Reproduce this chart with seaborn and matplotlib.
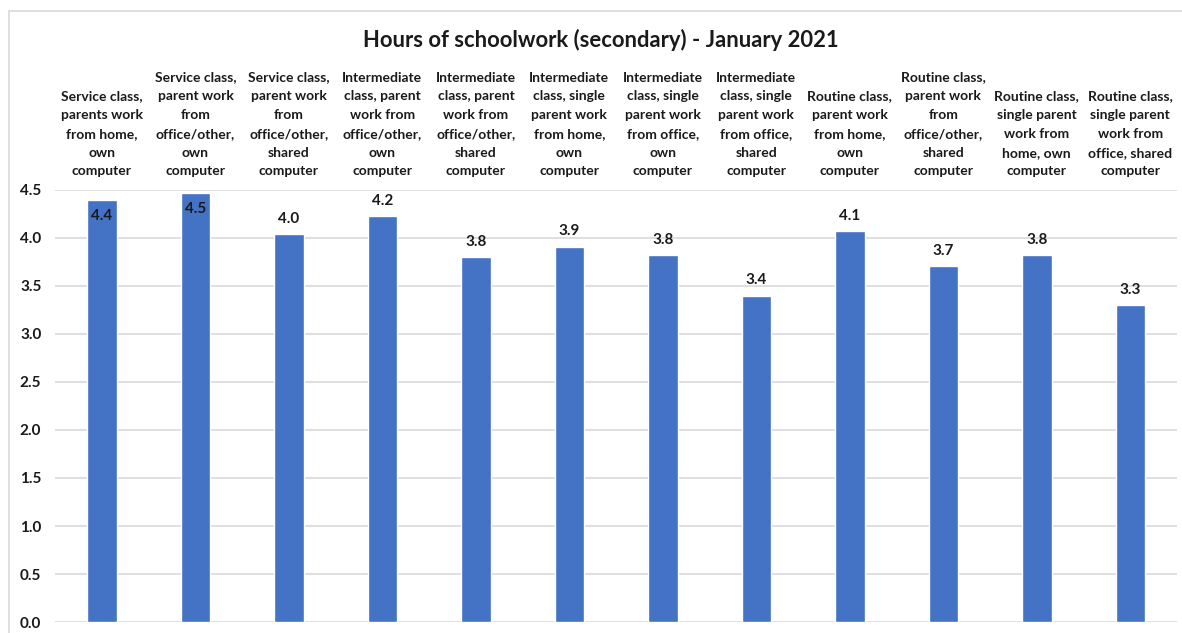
import matplotlib
matplotlib.use("Agg")
import matplotlib.pyplot as plt
from matplotlib.patches import Rectangle
import seaborn as sns
import pandas as pd

categories = [
    "Service class,\nparents work\nfrom home,\nown\ncomputer",
    "Service class,\nparent work\nfrom\noffice/other,\nown\ncomputer",
    "Service class,\nparent work\nfrom\noffice/other,\nshared\ncomputer",
    "Intermediate\nclass, parent\nwork from\noffice/other,\nown\ncomputer",
    "Intermediate\nclass, parent\nwork from\noffice/other,\nshared\ncomputer",
    "Intermediate\nclass, single\nparent work\nfrom home,\nown\ncomputer",
    "Intermediate\nclass, single\nparent work\nfrom office,\nown\ncomputer",
    "Intermediate\nclass, single\nparent work\nfrom office,\nshared\ncomputer",
    "Routine class,\nparent work\nfrom home,\nown\ncomputer",
    "Routine class,\nparent work\nfrom\noffice/other,\nshared\ncomputer",
    "Routine class,\nsingle parent\nwork from\nhome, own\ncomputer",
    "Routine class,\nsingle parent\nwork from\noffice, shared\ncomputer",
]
hours = [4.40, 4.47, 4.04, 4.23, 3.80, 3.91, 3.82, 3.40, 4.07, 3.71, 3.82, 3.30]
y_ticks = [0.0, 0.5, 1.0, 1.5, 2.0, 2.5, 3.0, 3.5, 4.0, 4.5]

sns.set_style("white")
plt.rcParams['font.family'] = ['Lato', 'DejaVu Sans']
text_col = '#1a1a1a'

df = pd.DataFrame({'cat': categories, 'hours': hours})

W, H = 1182, 633
fig = plt.figure(figsize=(W / 100, H / 100), dpi=100)
ax = fig.add_axes([55.25 / W, 1 - 622 / H, (1177 - 55.25) / W, (622 - 190) / H])

sns.barplot(data=df, x='cat', y='hours', color='#4472C4', saturation=1,
            width=0.315, ax=ax, zorder=3)

ax.set_ylim(0, 4.5)
ax.set_xlim(-0.5, len(categories) - 0.5)
ax.set_yticks(y_ticks)
ax.set_yticklabels([f'{t:.1f}' for t in y_ticks], fontsize=11, fontweight='bold', color=text_col)
ax.yaxis.grid(True, color='#d9d9d9', lw=1.2, zorder=0)
ax.xaxis.grid(False)
for s in ax.spines.values():
    s.set_visible(False)
ax.tick_params(axis='y', length=0, pad=10)

ax.xaxis.tick_top()
ax.set_xticks(range(len(categories)))
ax.set_xticklabels(categories, fontsize=10, fontweight='bold', color=text_col,
                   linespacing=1.68)
ax.tick_params(axis='x', length=0, pad=9)
ax.set_xlabel('')
ax.set_ylabel('')

# labels sit above the bar, or inside it when there is no room at the top
for i, v in enumerate(hours):
    if v > 4.3:
        ax.annotate(f'{v:.1f}', (i, v), xytext=(0, -6.5), textcoords='offset points',
                    ha='center', va='top', fontsize=11, fontweight='bold', color=text_col, zorder=4)
    else:
        ax.annotate(f'{v:.1f}', (i, v), xytext=(0, 6), textcoords='offset points',
                    ha='center', va='bottom', fontsize=11, fontweight='bold', color=text_col, zorder=4)

fig.text(601 / W, 1 - 40 / H, 'Hours of schoolwork (secondary) - January 2021',
         ha='center', va='center', fontsize=15.8, fontweight='bold', color=text_col)

fig.patches.append(Rectangle((9 / W, -0.1), 1.2, (H - 11) / H + 0.1, transform=fig.transFigure,
                             fill=False, edgecolor='#d9d9d9', lw=1.2))

fig.savefig('out.png', dpi=100)
